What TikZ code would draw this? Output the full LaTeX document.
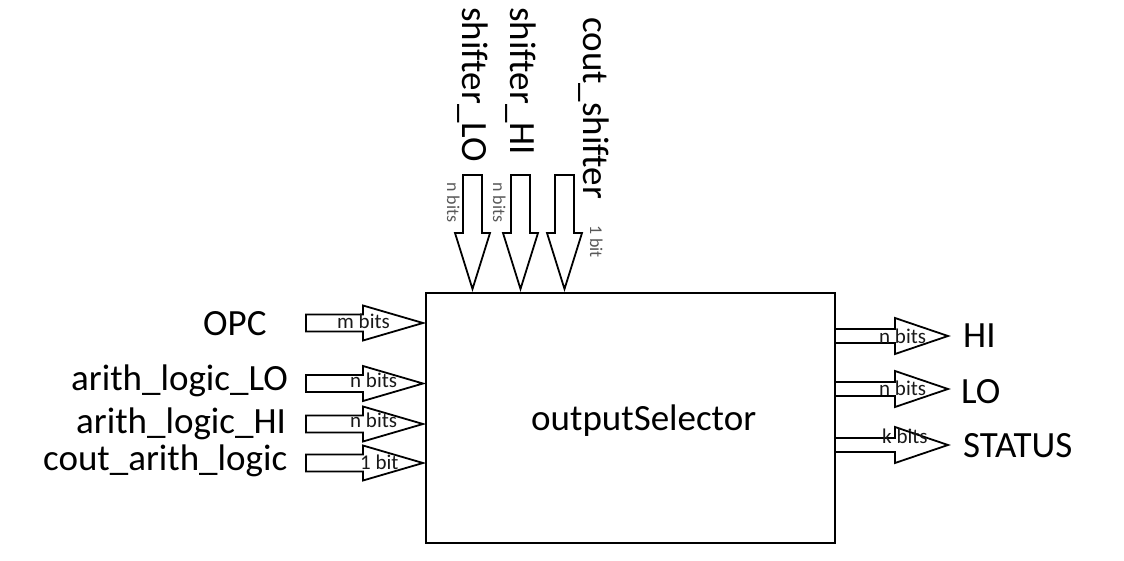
\documentclass[tikz,border=0pt]{standalone}
\usepackage{fontspec}
\setmainfont{Carlito}[Ligatures=NoCommon]
\tikzset{
  blk/.style={draw=black, fill=white, line width=1.8pt, line join=miter},
  big/.style={inner sep=0pt, font=\fontsize{37}{40}\selectfont, text=black},
  small/.style={inner sep=0pt, font=\fontsize{21}{24}\selectfont, text=black!90},
  tiny/.style={inner sep=0pt, font=\fontsize{18}{21}\selectfont, text=black!65},
}
% right-pointing block arrow: tail x, head base x, tip x, centre y, shaft half, head half
\newcommand\rblk[6]{\draw[blk] (#1,#4-#5) -- (#2,#4-#5) -- (#2,#4-#6) -- (#3,#4) -- (#2,#4+#6) -- (#2,#4+#5) -- (#1,#4+#5) -- cycle;}
% down-pointing block arrow: centre x, tail y, head base y, tip y, shaft half, head half
\newcommand\dblk[6]{\draw[blk] (#1-#5,#2) -- (#1-#5,#3) -- (#1-#6,#3) -- (#1,#4) -- (#1+#6,#3) -- (#1+#5,#3) -- (#1+#5,#2) -- cycle;}
\begin{document}
\begin{tikzpicture}[x=1pt,y=-1pt]
\useasboundingbox (0,0) rectangle (1124,561);
% right outputs (tails hidden under the box edge)
\rblk{835}{895}{948}{336}{7}{18}
\rblk{835}{895}{948}{389}{7}{18}
\rblk{835}{895}{948}{445}{7}{18}
% main box
\node[draw=black, line width=2pt, minimum width=409pt, minimum height=250pt, inner sep=0pt] (sel) at (630.5,418) {};
\node[big, anchor=base west] (selname) at (531,430) {outputSelector};
% left inputs
\rblk{306}{363}{423}{323}{8.5}{17.5}
\rblk{306}{363}{423}{383.5}{8.5}{17.5}
\rblk{306}{363}{423}{424}{8.5}{17.5}
\rblk{306}{363}{423}{463}{8.5}{17.5}
% top inputs
\dblk{472.5}{175}{233}{289}{9.5}{17.5}
\dblk{520.5}{175}{233}{289}{9.5}{17.5}
\dblk{564.5}{175}{233}{289}{9.5}{17.5}
% left labels
\node[big, anchor=base west] (opc) at (203,335) {OPC};
\node[big, anchor=base west] (alo) at (71,390) {arith\_logic\_LO};
\node[big, anchor=base west] (ahi) at (76,433) {arith\_logic\_HI};
\node[big, anchor=base west] (cal) at (43,470) {cout\_arith\_logic};
\node[small, anchor=base west] (w1) at (337,328) {m bits};
\node[small, anchor=base west] (w2) at (350,387) {n bits};
\node[small, anchor=base west] (w3) at (350,427) {n bits};
\node[small, anchor=base west] (w4) at (360,469) {1 bit};
% right labels
\node[big, anchor=base west] (hi) at (963,347) {HI};
\node[big, anchor=base west] (lo) at (961,403) {LO};
\node[big, anchor=base west] (st) at (963,457) {STATUS};
\node[small, anchor=base west] (w5) at (879,343) {n bits};
\node[small, anchor=base west] (w6) at (879,395) {n bits};
\node[small, anchor=base west] (w7) at (882,443) {k bits};
% top labels (rotated, reading downwards)
\node[big, anchor=base west, rotate=-90] (slo) at (462,7) {shifter\_LO};
\node[big, anchor=base west, rotate=-90] (shi) at (510,7) {shifter\_HI};
\node[big, anchor=base west, rotate=-90] (csh) at (583,17) {cout\_shifter};
\node[tiny, anchor=base west, rotate=-90] (w8) at (447,182) {n bits};
\node[tiny, anchor=base west, rotate=-90] (w9) at (493,182) {n bits};
\node[tiny, anchor=base west, rotate=-90] (w10) at (590,225) {1 bit};
\end{tikzpicture}
\end{document}
